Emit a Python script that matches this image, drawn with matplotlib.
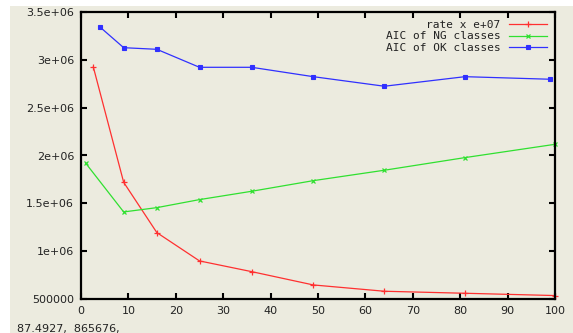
#!/usr/bin/env python3

import numpy as np
import matplotlib
matplotlib.use("Agg")
import matplotlib.pyplot as plt
from matplotlib.patches import Rectangle

# values
rate_x = [2.6, 9, 16, 25, 36, 49, 64, 81, 100]
rate_y = [2.925e6, 1.72e6, 1.194e6, 0.898e6, 0.786e6, 0.647e6, 0.581e6, 0.560e6, 0.536e6]

ng_x = [1, 9, 16, 25, 36, 49, 64, 81, 100]
ng_y = [1.919e6, 1.41e6, 1.455e6, 1.539e6, 1.626e6, 1.737e6, 1.846e6, 1.978e6, 2.117e6]

ok_x = [4, 9, 16, 25, 36, 49, 64, 81, 99]
ok_y = [3.343e6, 3.127e6, 3.110e6, 2.922e6, 2.922e6, 2.824e6, 2.724e6, 2.824e6, 2.797e6]

labels = ["rate x e+07", "AIC of NG classes", "AIC of OK classes"]
xticks = list(range(0, 101, 10))
yticks = [500000, 1e6, 1.5e6, 2e6, 2.5e6, 3e6, 3.5e6]
yticklabels = ["500000", "1e+06", "1.5e+06", "2e+06", "2.5e+06", "3e+06", "3.5e+06"]
status = "87.4927,  865676,"

bg = "#ecebdf"


def plot():
    fig = plt.figure(figsize=(5.73, 3.33), dpi=100, facecolor=bg)
    # white strips at the top and left edge of the screenshot
    fig.patches.append(Rectangle((0, 1 - 6 / 333), 1, 6 / 333, transform=fig.transFigure,
                                 facecolor="white", edgecolor="none", zorder=-1))
    fig.patches.append(Rectangle((0, 0), 10 / 573, 1, transform=fig.transFigure,
                                 facecolor="white", edgecolor="none", zorder=-1))

    ax = fig.add_axes([81 / 573, 1 - 299 / 333, (555 - 81) / 573, (299 - 12) / 333])
    ax.set_facecolor(bg)

    ax.plot(rate_x, rate_y, color="#ff3030", lw=0.9, marker="+", ms=4, mew=0.9,
            label=labels[0], clip_on=False)
    ax.plot(ng_x, ng_y, color="#30e030", lw=0.9, marker="x", ms=3.5, mew=0.9,
            label=labels[1], clip_on=False)
    ax.plot(ok_x, ok_y, color="#3030ff", lw=0.9, marker="s", ms=2.2, mew=0.8,
            label=labels[2], clip_on=False)

    ax.set_xlim(0, 100)
    ax.set_ylim(500000, 3.5e6)
    ax.set_xticks(xticks)
    ax.set_yticks(yticks)
    ax.set_yticklabels(yticklabels)
    ax.tick_params(direction="in", top=True, right=True, length=4, width=1.5,
                   labelsize=8, labelcolor="#222222", pad=5)
    for s in ax.spines.values():
        s.set_linewidth(1.6)
        s.set_zorder(3)

    leg = ax.legend(loc="upper right", frameon=False, markerfirst=False,
                    handlelength=3.4, handletextpad=0.8, labelspacing=0.15,
                    borderaxespad=0.3, prop={"family": "DejaVu Sans Mono", "size": 8})
    for t in leg.get_texts():
        t.set_color("#222222")

    fig.text(17 / 573, 1 - 324 / 333, status, fontsize=8, va="top", ha="left",
             color="#222222")

    fig.savefig("out.png", dpi=100, facecolor=bg)


if __name__ == "__main__":
    plot()
